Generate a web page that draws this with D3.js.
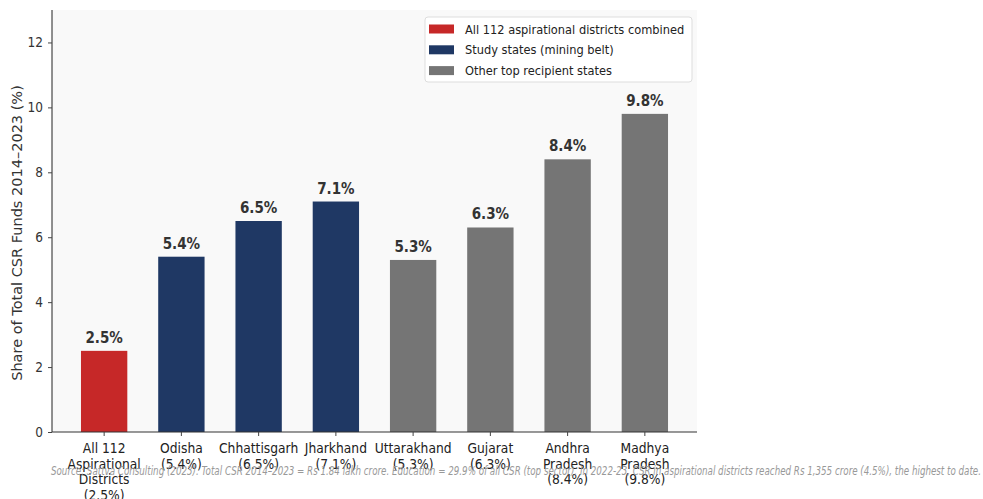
<!DOCTYPE html>
<html>
<head>
<meta charset="utf-8">
<script src="https://cdn.jsdelivr.net/npm/d3@7"></script>
<style>
  body { margin: 0; background: #fff; }
  svg { display: block; font-family: "DejaVu Sans Condensed", "DejaVu Sans", sans-serif; }
</style>
</head>
<body>
<div class="chart"></div>
<script>
const categories = [
  ['All 112', 'Aspirational', 'Districts', '(2.5%)'],
  ['Odisha', '(5.4%)'],
  ['Chhattisgarh', '(6.5%)'],
  ['Jharkhand', '(7.1%)'],
  ['Uttarakhand', '(5.3%)'],
  ['Gujarat', '(6.3%)'],
  ['Andhra', 'Pradesh', '(8.4%)'],
  ['Madhya', 'Pradesh', '(9.8%)'],
];
const values = [2.5, 5.4, 6.5, 7.1, 5.3, 6.3, 8.4, 9.8];
const groups = ['agg', 'study', 'study', 'study', 'other', 'other', 'other', 'other'];
const yTicks = [0, 2, 4, 6, 8, 10, 12];
const legendItems = [
  { key: 'agg', label: 'All 112 aspirational districts combined' },
  { key: 'study', label: 'Study states (mining belt)' },
  { key: 'other', label: 'Other top recipient states' },
];
const sourceNote = 'Source: Sattva Consulting (2023). Total CSR 2014\u20132023 = Rs 1.84 lakh crore. Education = 29.9% of all CSR (top sector). In 2022-23, CSR in aspirational districts reached Rs 1,355 crore (4.5%), the highest to date.';

const colors = { agg: '#c62828', study: '#1f3864', other: '#757575' };

const width = 983;
const height = 499;
const margin = { top: 10, right: 286, bottom: 67, left: 52 };
const innerW = width - margin.left - margin.right;
const innerH = height - margin.top - margin.bottom;

const svg = d3.select('.chart')
  .append('svg')
  .attr('width', width)
  .attr('height', height);

const g = svg.append('g')
  .attr('transform', `translate(${margin.left},${margin.top})`);

g.append('rect')
  .attr('width', innerW)
  .attr('height', innerH)
  .attr('fill', '#f9f9f9');

const x = d3.scaleLinear()
  .domain([-0.675, categories.length - 1 + 0.675])
  .range([0, innerW]);

const y = d3.scaleLinear()
  .domain([0, 13])
  .range([innerH, 0]);

const barW = 0.6 * (x(1) - x(0));

g.selectAll('rect.bar')
  .data(values)
  .enter().append('rect')
  .attr('class', 'bar')
  .attr('x', (d, i) => x(i) - barW / 2)
  .attr('y', d => y(d))
  .attr('width', barW)
  .attr('height', d => innerH - y(d))
  .attr('fill', (d, i) => colors[groups[i]]);

g.selectAll('text.val')
  .data(values)
  .enter().append('text')
  .attr('class', 'val')
  .attr('x', (d, i) => x(i))
  .attr('y', d => y(d) - 8)
  .attr('text-anchor', 'middle')
  .attr('font-size', 15)
  .attr('font-weight', 'bold')
  .attr('fill', '#333')
  .text(d => `${d.toFixed(1)}%`);

/* axes */

const yAxis = d3.axisLeft(y).tickValues(yTicks).tickSize(4).tickPadding(5);
const yAxisGroup = g.append('g').call(yAxis);
yAxisGroup.select('.domain').attr('stroke', '#222').attr('d', `M0,${innerH}V0`);
yAxisGroup.selectAll('.tick line').attr('stroke', '#444');
yAxisGroup.selectAll('.tick text')
  .attr('font-size', 13.5)
  .attr('fill', '#333')
  .style('font-family', '"DejaVu Sans Condensed", "DejaVu Sans", sans-serif');

const xAxisGroup = g.append('g').attr('transform', `translate(0,${innerH})`);
xAxisGroup.append('line')
  .attr('x1', 0).attr('x2', innerW)
  .attr('stroke', '#333').attr('stroke-width', 1.2);

const xt = xAxisGroup.selectAll('g.tick')
  .data(categories)
  .enter().append('g')
  .attr('class', 'tick')
  .attr('transform', (d, i) => `translate(${x(i)},0)`);
xt.append('line').attr('y2', 4).attr('stroke', '#444');
xt.append('text')
  .attr('text-anchor', 'middle')
  .attr('font-size', 13.7)
  .attr('fill', '#222')
  .selectAll('tspan')
  .data(d => d)
  .enter().append('tspan')
  .attr('x', 0)
  .attr('y', (d, i) => 21 + i * 15.7)
  .text(d => d);

svg.append('text')
  .attr('transform', `translate(22,${margin.top + innerH / 2 + 12}) rotate(-90)`)
  .attr('text-anchor', 'middle')
  .attr('font-size', 14.5)
  .attr('fill', '#333')
  .style('font-family', '"DejaVu Sans", sans-serif')
  .text('Share of Total CSR Funds 2014\u20132023 (%)');

/* legend */

const legend = g.append('g').attr('transform', 'translate(373,7)');
legend.append('rect')
  .attr('width', 267).attr('height', 65)
  .attr('rx', 3)
  .attr('fill', '#fff')
  .attr('stroke', '#ddd');
const li = legend.selectAll('g.item')
  .data(legendItems)
  .enter().append('g')
  .attr('class', 'item')
  .attr('transform', (d, i) => `translate(4,${12 + i * 20.8})`);
li.append('rect')
  .attr('y', -4.5).attr('width', 25).attr('height', 9)
  .attr('fill', d => colors[d.key]);
li.append('text')
  .attr('x', 36).attr('y', 4.5)
  .attr('font-size', 12.7)
  .attr('fill', '#222')
  .text(d => d.label);

svg.append('text')
  .attr('x', 51)
  .attr('y', 475)
  .attr('font-size', 12.5)
  .attr('font-style', 'italic')
  .attr('fill', '#999')
  .attr('textLength', 930)
  .attr('lengthAdjust', 'spacingAndGlyphs')
  .text(sourceNote);
</script>
</body>
</html>
